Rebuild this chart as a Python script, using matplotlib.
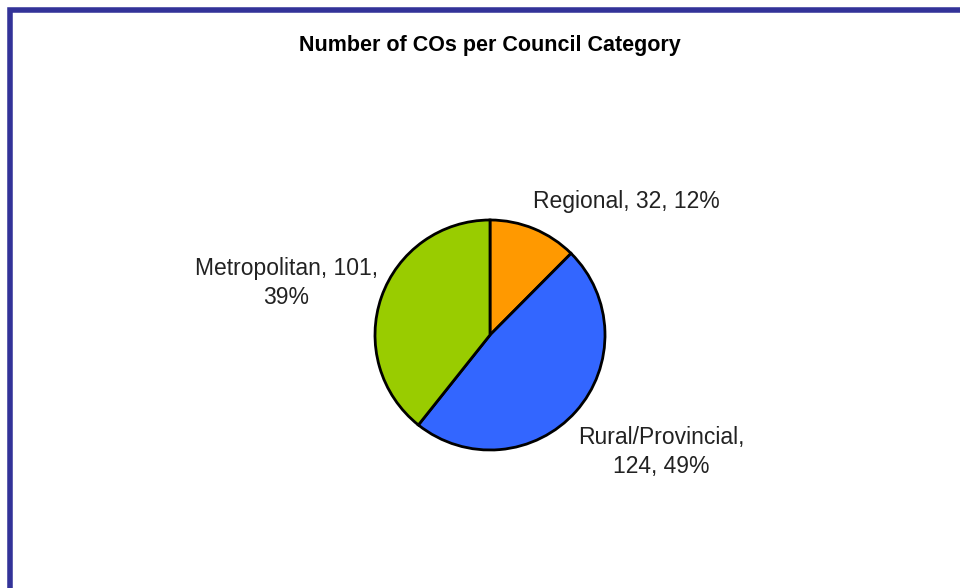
import matplotlib
matplotlib.use("Agg")
import matplotlib.pyplot as plt
from matplotlib import font_manager
from matplotlib.patches import Rectangle

names = {f.name for f in font_manager.fontManager.ttflist}
narrow = "Liberation Sans Narrow" if "Liberation Sans Narrow" in names else "Liberation Sans"
plt.rcParams['font.family'] = [narrow, 'DejaVu Sans']

categories = ["Regional", "Rural/Provincial", "Metropolitan"]
counts = [32, 124, 101]
percents = [12, 49, 39]
colors = ["#ff9900", "#3366ff", "#99cc00"]
labels = ["Regional, 32, 12%", "Rural/Provincial,\n124, 49%", "Metropolitan, 101,\n39%"]
label_pos = [(1.19, 1.16), (1.49, -1.02), (-1.77, 0.45)]

fig = plt.figure(figsize=(9.6, 5.88), dpi=100)
ax = fig.add_axes([0, 0, 1, 1])
r = 115.0

ax.pie(counts, colors=colors, startangle=90, counterclock=False, radius=1,
       wedgeprops=dict(edgecolor="black", linewidth=2), frame=True)
ax.axis("off")
ax.set_aspect("equal")
ax.set_xlim(-490 / r, (960 - 490) / r)
ax.set_ylim(-(588 - 335) / r, 335 / r)

for txt, (x, y) in zip(labels, label_pos):
    ax.text(x, y, txt, ha="center", va="center", fontsize=16.5, linespacing=1.35,
            color="#222222")

fig.text(490 / 960, 1 - 45 / 588, "Number of COs per Council Category",
         ha="center", va="center", fontsize=15.5, fontweight="bold")

# dark blue frame, only left and top edges fall inside the canvas
fig.patches.append(Rectangle((9.5 / 960, -0.1), 1.2, 1 - 9.5 / 588 + 0.1,
                             transform=fig.transFigure, fill=False,
                             edgecolor="#333399", linewidth=4))

fig.savefig("out.png", dpi=100)
